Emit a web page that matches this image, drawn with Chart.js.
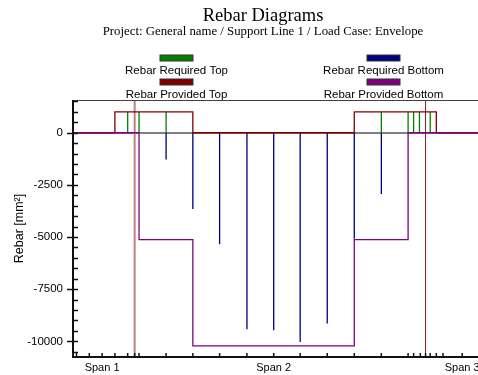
<!DOCTYPE html>
<html>
<head>
<meta charset="utf-8">
<script src="https://cdn.jsdelivr.net/npm/chart.js@4/dist/chart.umd.min.js"></script>
<style>
  html, body { margin: 0; padding: 0; background: #fff; overflow: hidden; }
  #wrap { width: 520px; height: 375px; }
</style>
</head>
<body>
<div id="wrap"><canvas id="chartRebar" width="520" height="375"></canvas></div>
<script>
// positions along the strip (m)
const xMin = -0.12;
const xMax = 14.8;
const supports = [2.0, 12.0];

// section positions used as axis ticks
const sectionTicks = [0, 0.44, 0.88, 1.32, 1.76, 2.0, 2.15, 3.08, 4.0, 4.92, 5.86, 6.78, 7.69,
    8.62, 9.55, 10.48, 11.4, 11.59, 11.82, 12.0, 12.16, 12.37, 12.6, 13.26];
const spanLabelAt = [0.88, 6.78, 13.26];
const spanLabels = ['Span 1', 'Span 2', 'Span 3'];

// y axis (mm²)
const yMin = -10750;
const yMax = 1570;
const yTicks = [-10500, -10000, -9500, -9000, -8500, -8000, -7500, -7000, -6500, -6000, -5500,
    -5000, -4500, -4000, -3500, -3000, -2500, -2000, -1500, -1000, -500, 0, 500, 1000, 1500];

// provided rebar, step outline
const providedTopX = [xMin, 1.32, 1.32, 4.0, 4.0, 9.55, 9.55, 12.37, 12.37, xMax];
const providedTopY = [0, 0, 1000, 1000, 0, 0, 1000, 1000, 0, 0];
const providedBotX = [xMin, 2.15, 2.15, 4.0, 4.0, 9.55, 9.55, 11.4, 11.4, xMax];
const providedBotY = [0, 0, -5120, -5120, -10220, -10220, -5120, -5120, 0, 0];

// required rebar at sections
const reqTopX = [1.76, 2.15, 3.08, 10.48, 11.4, 11.59, 11.79, 12.16];
const reqTopY = [1000, 1000, 1000, 1000, 1000, 1000, 1000, 1000];
const reqBotX = [3.08, 4.0, 4.92, 5.86, 6.78, 7.69, 8.62, 9.55, 10.48];
const reqBotY = [-1280, -3650, -5340, -9420, -9470, -10030, -9150, -5080, -2940];

function outline(xs, ys) {
    return xs.map((x, i) => ({ x: x, y: ys[i] }));
}

function stems(xs, ys) {
    return xs.flatMap((x, i) => [{ x: x, y: 0 }, { x: x, y: ys[i] }, { x: x, y: null }]);
}

const rebarDecor = {
    id: 'rebarDecor',
    beforeDatasetsDraw(chart) {
        const { ctx, chartArea, scales } = chart;
        ctx.save();
        // support lines
        const supStyle = [{ c: '#c07f7f', w: 2 }, { c: '#8b1c1c', w: 1 }];
        supports.forEach((s, i) => {
            const px = scales.x.getPixelForValue(s);
            ctx.strokeStyle = supStyle[i].c;
            ctx.lineWidth = supStyle[i].w;
            ctx.beginPath();
            ctx.moveTo(px, chartArea.top);
            ctx.lineTo(px, chartArea.bottom);
            ctx.stroke();
        });
        ctx.restore();
    },
    afterDraw(chart) {
        const { ctx, chartArea, scales } = chart;
        ctx.save();
        // frame
        ctx.strokeStyle = '#404040';
        ctx.lineWidth = 1;
        ctx.beginPath();
        ctx.moveTo(chartArea.left, chartArea.top + 0.5);
        ctx.lineTo(chartArea.right, chartArea.top + 0.5);
        ctx.stroke();
        ctx.strokeStyle = '#111';
        ctx.lineWidth = 2;
        ctx.beginPath();
        ctx.moveTo(chartArea.left, chartArea.top);
        ctx.lineTo(chartArea.left, chartArea.bottom);
        ctx.lineTo(chartArea.right, chartArea.bottom);
        ctx.stroke();

        // tick marks, drawn inward
        ctx.lineWidth = 1.5;
        scales.y.ticks.forEach(t => {
            const py = Math.round(scales.y.getPixelForValue(t.value)) + 0.5;
            const major = t.value % 2500 === 0;
            ctx.beginPath();
            ctx.moveTo(chartArea.left - (major ? 6 : 0), py);
            ctx.lineTo(chartArea.left + 5, py);
            ctx.stroke();
        });
        scales.x.ticks.forEach(t => {
            const px = scales.x.getPixelForValue(t.value);
            ctx.beginPath();
            ctx.moveTo(px, chartArea.bottom);
            ctx.lineTo(px, chartArea.bottom - 4);
            ctx.stroke();
        });

        // titles
        ctx.fillStyle = '#000';
        ctx.textAlign = 'center';
        ctx.textBaseline = 'alphabetic';
        ctx.font = '18.5px "Liberation Serif", "Times New Roman", serif';
        ctx.fillText('Rebar Diagrams', 263, 21);
        ctx.font = '12.8px "Liberation Serif", "Times New Roman", serif';
        ctx.fillText('Project: General name / Support Line 1 / Load Case: Envelope', 263, 35);

        // legend: two columns, box above label
        const cols = [176.5, 383.5];
        const rows = [55, 79];
        const order = [3, 2, 1, 0];
        ctx.textBaseline = 'middle';
        ctx.font = '11.5px "Liberation Sans", Arial, sans-serif';
        order.forEach((di, k) => {
            const ds = chart.data.datasets[di];
            const cx = cols[k % 2];
            const by = rows[Math.floor(k / 2)];
            ctx.fillStyle = ds.borderColor;
            ctx.fillRect(cx - 16.5, by, 33, 6);
            ctx.strokeStyle = '#333';
            ctx.lineWidth = 1;
            ctx.strokeRect(cx - 16.5, by, 33, 6);
            ctx.fillStyle = '#000';
            ctx.fillText(ds.label, cx, by + 15.5);
        });
        ctx.restore();
    }
};

const ctx = document.getElementById('chartRebar').getContext('2d');

new Chart(ctx, {
    type: 'line',
    data: {
        datasets: [
            { label: 'Rebar Provided Bottom', data: outline(providedBotX, providedBotY), borderColor: '#800080' },
            { label: 'Rebar Provided Top', data: outline(providedTopX, providedTopY), borderColor: '#800000' },
            { label: 'Rebar Required Bottom', data: stems(reqBotX, reqBotY), borderColor: '#000080' },
            { label: 'Rebar Required Top', data: stems(reqTopX, reqTopY), borderColor: '#008000' }
        ]
    },
    options: {
        responsive: false,
        animation: false,
        spanGaps: false,
        elements: {
            line: { borderWidth: 1.3, tension: 0, fill: false },
            point: { radius: 0, hoverRadius: 0 }
        },
        layout: { padding: { left: 0, right: 13, top: 100, bottom: 0 } },
        plugins: {
            legend: { display: false },
            title: { display: false },
            tooltip: { enabled: false }
        },
        scales: {
            x: {
                type: 'linear',
                min: xMin,
                max: xMax,
                afterBuildTicks: scale => { scale.ticks = sectionTicks.map(v => ({ value: v })); },
                afterFit: scale => { scale.height = 18; },
                grid: { display: false, drawTicks: false },
                border: { display: false },
                ticks: {
                    autoSkip: false,
                    maxRotation: 0,
                    padding: 4,
                    color: '#000',
                    font: { family: '"Liberation Sans", Arial, sans-serif', size: 11 },
                    callback: v => {
                        const i = spanLabelAt.indexOf(v);
                        return i >= 0 ? spanLabels[i] : '';
                    }
                }
            },
            y: {
                min: yMin,
                max: yMax,
                afterBuildTicks: scale => { scale.ticks = yTicks.map(v => ({ value: v })); },
                afterFit: scale => { scale.width = 73; },
                grid: {
                    drawTicks: false,
                    color: c => c.tick && c.tick.value === 0 ? '#808080' : 'transparent',
                    lineWidth: c => c.tick && c.tick.value === 0 ? 2 : 0
                },
                border: { display: false },
                title: {
                    display: true,
                    text: 'Rebar [mm²]',
                    color: '#000',
                    padding: { top: 12, bottom: 0 },
                    font: { family: '"Liberation Sans", Arial, sans-serif', size: 12.5 }
                },
                ticks: {
                    autoSkip: false,
                    padding: 10,
                    color: '#000',
                    font: { family: '"Liberation Sans", Arial, sans-serif', size: 11.5 },
                    callback: v => v % 2500 === 0 ? String(v) : ''
                }
            }
        }
    },
    plugins: [rebarDecor]
});
</script>
</body>
</html>
